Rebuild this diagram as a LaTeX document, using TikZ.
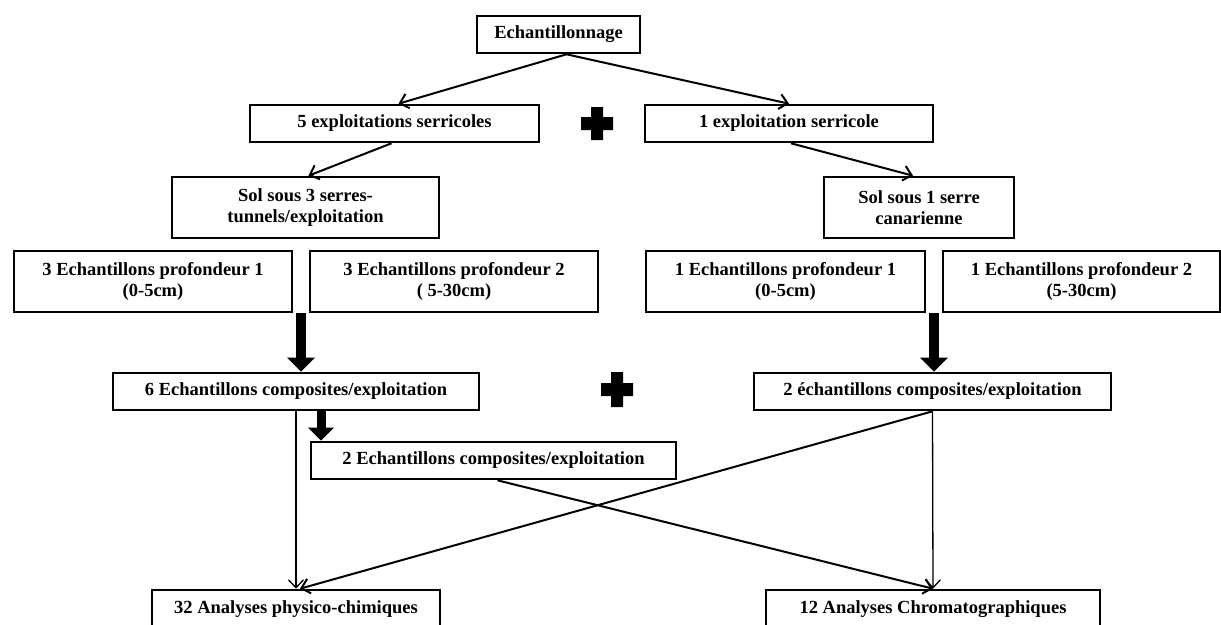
\documentclass[tikz,border=0pt]{standalone}
\usepackage{fontspec}
\setmainfont{Liberation Serif}
\usetikzlibrary{arrows.meta,calc}
\begin{document}
\begin{tikzpicture}[x=1pt,y=-1pt,
  box/.style={draw,line width=2.6pt,inner sep=0pt,align=center,
    font=\fontsize{18.5}{21}\selectfont\bfseries},
  thin/.style={line width=1.3pt,-{Straight Barb[length=8pt,width=15pt]}},
  med/.style={line width=2pt,-{Straight Barb[length=8pt,width=15pt]}},
  fat/.style={line width=10pt,-{Triangle[length=14pt,width=27pt]}},
  fatsmall/.style={line width=9pt,-{Triangle[length=13pt,width=25pt]}},
  plus/.style={fill=black}]
\useasboundingbox (0,0) rectangle (1221,624);

\node[box,minimum width=163pt,minimum height=37pt] (ech) at (558.5,34.5) {Echantillonnage};
\node[box,minimum width=289pt,minimum height=37pt] (e5) at (394.5,123.5) {5 exploitations serricoles};
\node[box,minimum width=288pt,minimum height=37pt] (e1) at (789,123.5) {1 exploitation serricole};
\node[box,minimum width=267pt,minimum height=61pt] (sol3) at (305.5,207.5) {Sol sous 3 serres-\\tunnels/exploitation};
\node[box,minimum width=190pt,minimum height=61pt] (sol1) at (919,207.5) {Sol sous 1 serre\\canarienne};
\node[box,minimum width=278pt,minimum height=61pt] (p31) at (153,281.5) {3 Echantillons profondeur 1\\(0-5cm)};
\node[box,minimum width=288pt,minimum height=61pt] (p32) at (454,281.5) {3 Echantillons profondeur 2\\( 5-30cm)};
\node[box,minimum width=279pt,minimum height=61pt] (p11) at (785.5,281.5) {1 Echantillons profondeur 1\\(0-5cm)};
\node[box,minimum width=277pt,minimum height=61pt] (p12) at (1081.5,281.5) {1 Echantillons profondeur 2\\(5-30cm)};
\node[box,minimum width=366pt,minimum height=37pt] (c6) at (296,391.5) {6 Echantillons composites/exploitation};
\node[box,minimum width=357pt,minimum height=37pt] (c2e) at (932.5,391.5) {2 échantillons composites/exploitation};
\node[box,minimum width=365pt,minimum height=37pt] (c2m) at (493.5,460.5) {2 Echantillons composites/exploitation};
\node[box,minimum width=288pt,minimum height=38pt] (a32) at (296,609) {32 Analyses physico-chimiques};
\node[box,minimum width=334pt,minimum height=38pt] (a12) at (933,609) {12 Analyses Chromatographiques};

% plus signs
\fill[plus,shift={(597,123.5)}] (-6,-16.5) rectangle (6,16.5) (-16,-6.5) rectangle (16,6.5);
\fill[plus,shift={(617,389.5)}] (-6,-17.5) rectangle (6,17.5) (-16,-6.5) rectangle (16,6.5);

% connectors
\draw[med] ([xshift=8pt]ech.south) -- ([xshift=4pt]e5.north);
\draw[med] ([xshift=8pt]ech.south) -- (e1.north);
\draw[med] ([xshift=-3pt]e5.south) -- ([xshift=3pt]sol3.north);
\draw[med] ([xshift=2pt]e1.south) -- ([xshift=-6pt]sol1.north);

\coordinate (t1) at ($(p31.south east)!0.5!(p32.south west)$);
\draw[fat] (t1) -- (t1 |- c6.north);
\coordinate (t2) at ($(p11.south east)!0.5!(p12.south west)$);
\draw[fat] (t2) -- (t2 |- c2e.north);

\coordinate (t3) at ([xshift=25pt]c6.south);
\draw[fatsmall] (t3) -- (t3 |- c2m.north);

\draw[thin] (c6.south) -- (a32.north);
\draw[thin] (c2e.south) -- (a12.north);
\draw[med] (c2e.south) -- ([xshift=4pt]a32.north);
\draw[med] ([xshift=4pt]c2m.south) -- (a12.north);
\end{tikzpicture}
\end{document}
